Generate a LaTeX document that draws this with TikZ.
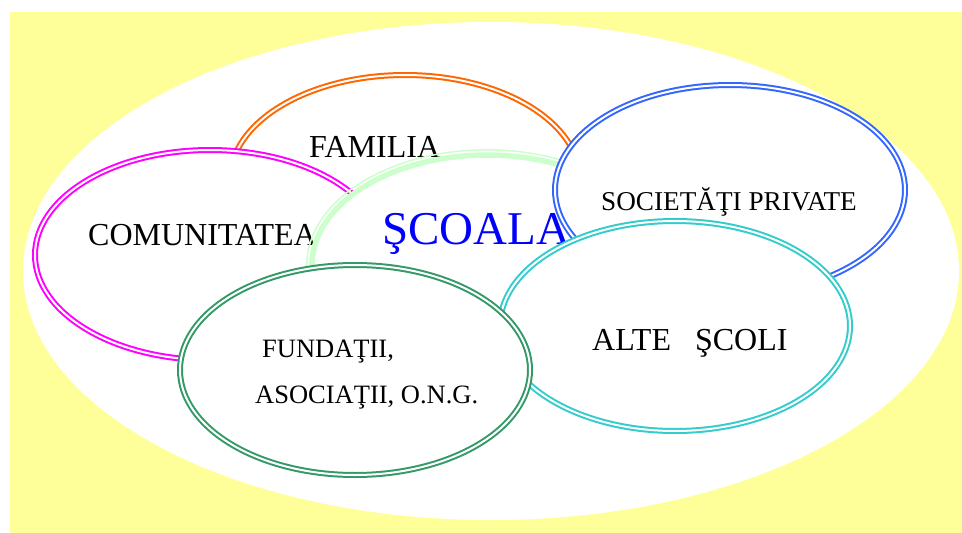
\documentclass[tikz,border=0pt]{standalone}
\usepackage{fontspec}
\setmainfont{Liberation Serif}
\usetikzlibrary{shapes.geometric}

\definecolor{bgyellow}{HTML}{FFFF99}
\definecolor{famorange}{HTML}{FF6600}
\definecolor{commagenta}{HTML}{FF00FF}
\definecolor{scpale}{HTML}{CCFFCC}
\definecolor{socblue}{HTML}{3366FF}
\definecolor{altcyan}{HTML}{33CCCC}
\definecolor{fundgreen}{HTML}{339966}

\begin{document}
\begin{tikzpicture}[x=1pt,y=-1pt,
  ring/.style={ellipse,fill=white,inner sep=0pt,minimum width=350pt,minimum height=210pt,
    double=white,double distance=2pt,line width=2pt},
  txt/.style={anchor=base west,inner sep=0pt,font=\fontsize{32}{38}\selectfont}]

\useasboundingbox (0,0) rectangle (962,533);
\fill[bgyellow] (10,12) rectangle (962,533);
\fill[white] (491,271) ellipse [x radius=468pt, y radius=249pt];

% outer ring of partners, back to front
\node[ring,draw=famorange]   (familia)  at (405,180) {};
\node[txt]                   (tfam)     at (309,157) {FAMILIA};

\node[ring,draw=commagenta]  (comun)    at (210,255) {};
\node[txt]                   (tcom)     at (88,245)  {COMUNITATEA};

% the school itself
\node[ellipse,fill=white,draw=scpale,line width=5.5pt,inner sep=0pt,
      minimum width=350pt,minimum height=220pt] (scoala) at (487,265) {};
\draw[scpale,line width=1.5pt] (scoala.center) ellipse [x radius=180.2pt, y radius=115.2pt];
\node[txt,text=blue,font=\fontsize{47}{56}\selectfont] (tsc) at (382,244) {ŞCOALA};

\node[ring,draw=socblue]     (societati) at (730,190) {};
\node[txt,font=\fontsize{27.2}{32}\selectfont] (tsoc) at (601,210) {SOCIETĂŢI PRIVATE};

\node[ring,draw=altcyan]     (alte)     at (675,326) {};
\node[txt]                   (talt)     at (592,350) {ALTE\ \ \ ŞCOLI};

\node[ring,draw=fundgreen]   (fundatii) at (355,370) {};
\node[txt,font=\fontsize{26.5}{31}\selectfont] (tfund) at (262,357) {FUNDAŢII,};
\node[txt,font=\fontsize{26.5}{31}\selectfont] (tasoc) at (255,403) {ASOCIAŢII, O.N.G.};

\end{tikzpicture}
\end{document}
